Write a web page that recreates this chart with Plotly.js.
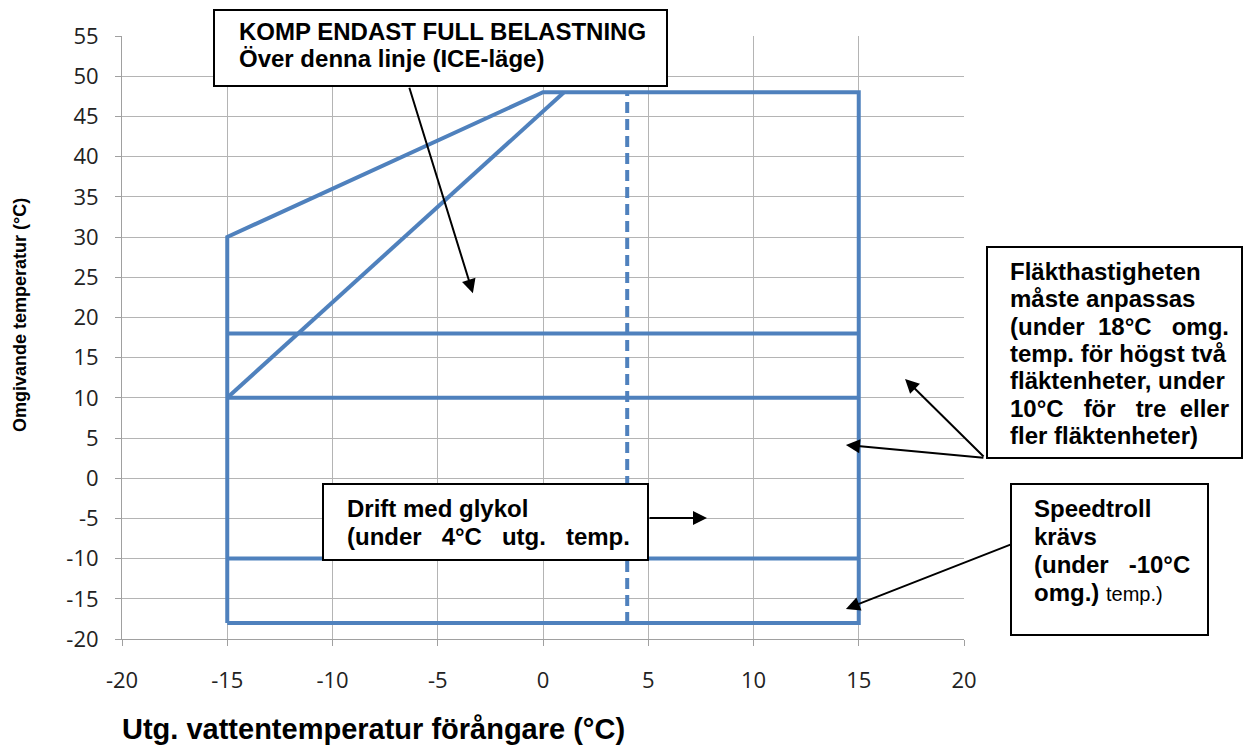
<!DOCTYPE html>
<html><head><meta charset="utf-8">
<script src="https://cdn.plot.ly/plotly-3.0.1.min.js"></script>
<style>html,body{margin:0;padding:0;background:#fff}#chart{width:1247px;height:745px}</style>
</head><body><div id="chart"></div>
<script>
// ---------- data ----------
const envelopeX = [-15, 15, 15, 0, -15, -15];
const envelopeY = [-18, -18, 48, 48, 30, -18];
const iceLimitX = [-15, 1];
const iceLimitY = [10, 48];
const fan18X = [-15, 15];
const fan18Y = [18, 18];
const fan10X = [-15, 15];
const fan10Y = [10, 10];
const speedtrollX = [-15, 15];
const speedtrollY = [-10, -10];
const glycolX = [4, 4];
const glycolY = [-18, 48];

const xTickVals = [-20, -15, -10, -5, 0, 5, 10, 15, 20];
const xTickText = ['-20', '-15', '-10', '-5', '0', '5', '10', '15', '20'];
const yTickVals = [-20, -15, -10, -5, 0, 5, 10, 15, 20, 25, 30, 35, 40, 45, 50, 55];
const yTickText = ['-20', '-15', '-10', '-5', '0', '5', '10', '15', '20', '25', '30', '35', '40', '45', '50', '55'];

const xTitle = 'Utg. vattentemperatur förångare (°C)';
const yTitle = 'Omgivande temperatur (°C)';

const NB = '\u00a0';
const iceLines = ['KOMP ENDAST FULL BELASTNING', 'Över denna linje (ICE-läge)'];
const fanLines = [
  'Fläkthastigheten',
  'måste anpassas',
  '(under' + NB + NB + '18°C' + NB + NB + NB + 'omg.',
  'temp. för högst två',
  'fläktenheter, under',
  '10°C' + NB + NB + NB + 'för' + NB + NB + NB + 'tre' + NB + NB + 'eller',
  'fler fläktenheter)'
];
const speedLines = [
  'Speedtroll',
  'krävs',
  '(under' + NB + NB + NB + '-10°C',
  'omg.)</b> <span style="font-size:20px;font-weight:normal">temp.)</span><b>'
];
const glycolLines = [
  'Drift med glykol',
  '(under' + NB + NB + NB + '4°C' + NB + NB + NB + 'utg.' + NB + NB + NB + 'temp.'
];

// ---------- layout helpers ----------
const W = 1247, H = 745;
const M = {l: 122, r: 283, t: 36, b: 106};
const PW = W - M.l - M.r, PH = H - M.t - M.b;
const px = v => (v - M.l) / PW;
const py = v => (H - M.b - v) / PH;

const BLUE = '#4f81bd';
const FONT = 'Liberation Sans, Arial, sans-serif';

function seg(x, y, dash) {
  return {x: x, y: y, type: 'scatter', mode: 'lines',
    line: {color: BLUE, width: 4, dash: dash || 'solid'},
    hoverinfo: 'skip', showlegend: false};
}
const traces = [
  seg(envelopeX, envelopeY),
  seg(iceLimitX, iceLimitY),
  seg(fan18X, fan18Y),
  seg(fan10X, fan10Y),
  seg(speedtrollX, speedtrollY),
  seg(glycolX, glycolY, '11px,6px')
];

function box(x0, y0, x1, y1) {
  return {type: 'rect', xref: 'paper', yref: 'paper', layer: 'above',
    x0: px(x0), x1: px(x1), y0: py(y1), y1: py(y0),
    line: {color: '#000', width: 2}, fillcolor: '#fff'};
}
const shapes = [
  box(214, 10, 667, 86),
  box(987, 247, 1242, 458),
  box(1011, 484, 1208, 635),
  box(323, 484, 648, 560)
];

const annotations = [];
function block(lines, x0, base0, step, size) {
  lines.forEach((t, i) => {
    annotations.push({xref: 'paper', yref: 'paper', showarrow: false,
      x: px(x0), y: py(base0 + i * step - 0.3465 * size),
      xanchor: 'left', yanchor: 'middle', align: 'left',
      text: '<b>' + t + '</b>', font: {family: FONT, size: size, color: '#000'}});
  });
}
block(iceLines, 237, 40, 27, 24);
block(fanLines, 1008, 280, 27.3, 24);
block(speedLines, 1032, 517, 27.8, 24);
block(glycolLines, 345, 517, 28, 24);

function arrow(x, y, ax, ay) {
  annotations.push({xref: 'x', yref: 'y', x: x, y: y, ax: ax, ay: ay, text: '',
    showarrow: true, arrowhead: 2, arrowsize: 1.4, arrowwidth: 2, arrowcolor: '#000', standoff: 0});
}
arrow(-3.33, 23.0, -64, -207);
arrow(17.2, 12.34, 80, 79);
arrow(14.39, 4.13, 139, 13);
arrow(14.39, -16.27, 166, -65);
arrow(7.79, -4.95, -59, 0);

// axis titles
annotations.push({xref: 'paper', yref: 'paper', showarrow: false,
  x: px(373), y: py(729), xanchor: 'center', yanchor: 'middle',
  text: '<b>' + xTitle + '</b>', font: {family: FONT, size: 29, color: '#000'}});
annotations.push({xref: 'paper', yref: 'paper', showarrow: false, textangle: -90,
  x: px(20), y: py(315), xanchor: 'center', yanchor: 'middle',
  text: '<b>' + yTitle + '</b>', font: {family: FONT, size: 18, color: '#000'}});

const GRID = '#b4b4b4';
const layout = {
  width: W, height: H, margin: M,
  paper_bgcolor: '#fff', plot_bgcolor: '#fff',
  showlegend: false,
  xaxis: {range: [-20, 20], tickmode: 'array', tickvals: xTickVals, ticktext: xTickText,
    showgrid: true, gridcolor: GRID, gridwidth: 1, zeroline: false,
    showline: true, linecolor: '#a0a0a0', linewidth: 1,
    ticks: 'outside', ticklen: 6, tickcolor: '#a0a0a0',
    tickfont: {family: 'Open Sans', size: 22, color: '#222'},
    ticklabelstandoff: 16, fixedrange: true},
  yaxis: {range: [-20, 55], tickmode: 'array', tickvals: yTickVals, ticktext: yTickText,
    showgrid: true, gridcolor: GRID, gridwidth: 1, zeroline: false,
    showline: true, linecolor: '#a0a0a0', linewidth: 1,
    ticks: 'outside', ticklen: 6, tickcolor: '#a0a0a0',
    tickfont: {family: 'Open Sans', size: 22, color: '#222'},
    ticklabelstandoff: 12, fixedrange: true},
  shapes: shapes,
  annotations: annotations
};

Plotly.newPlot('chart', traces, layout, {displayModeBar: false, staticPlot: true});
</script>
</body></html>
